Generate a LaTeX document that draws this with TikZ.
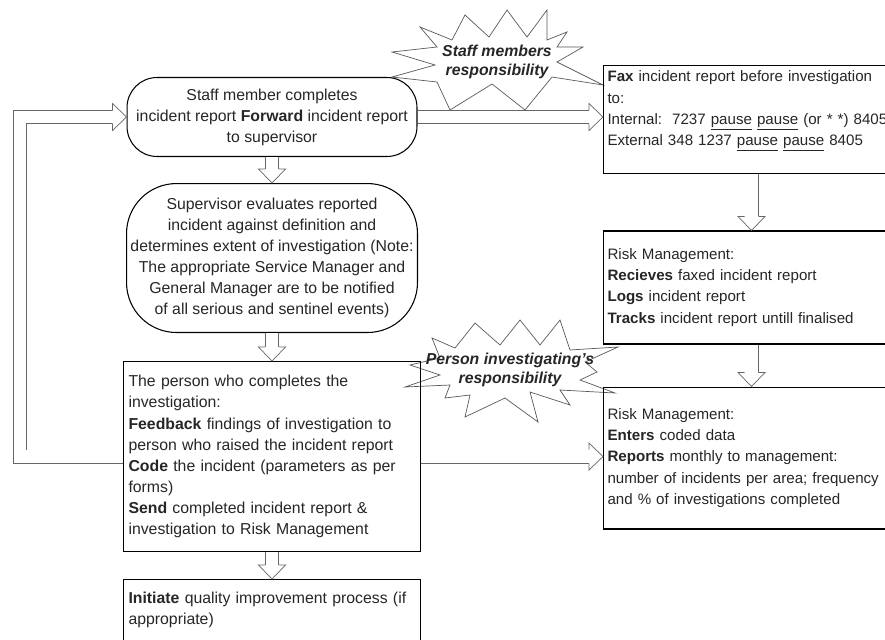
\documentclass[tikz,border=0pt]{standalone}
\usepackage{fontspec}
\setmainfont{Liberation Sans}
\usepackage{tikz}
\usetikzlibrary{positioning}
\usetikzlibrary{calc}
\usetikzlibrary{decorations.markings}
\tikzset{oval node/.style={draw,rounded corners=0.6cm,minimum width=5.8cm,minimum height=1.58cm,align=center,inner sep=0pt,line width=0.6pt},
	box node/.style={draw,rectangle,align=left,inner xsep=0.1cm,inner ysep=0.11cm,line width=0.6pt},
	risk node/.style={box node,text width=6cm,inner xsep=0.08cm,font=\fontsize{8.6}{12}\selectfont},
	resp node/.style={font=\fontsize{9}{11}\selectfont\bfseries\itshape,align=center,inner sep=0pt},
	burst line/.style={draw=black!65,line width=0.4pt,line join=miter},
	fat arrow/.style={draw=white,line width=0.252cm,shorten >=0.27cm,
		preaction={draw=black!60,line width=0.28cm,shorten >=0.27cm},
		postaction={decorate,decoration={markings,mark=at position 1 with {
			\fill[white,shorten >=0pt] (-0.28cm,-0.27cm) -- (0,0) -- (-0.28cm,0.27cm) -- cycle;
			\draw[black!60,line width=0.4pt,shorten >=0pt] (-0.28cm,-0.14cm) -- (-0.28cm,-0.27cm) -- (0,0) -- (-0.28cm,0.27cm) -- (-0.28cm,0.14cm);}}}},}

\begin{document}
\begin{tikzpicture}[x=0.02cm, y=-0.02cm, every node/.style={font=\fontsize{9}{12}\selectfont,text=black!85}]
	\useasboundingbox (0,0) rectangle (885,639);
	\clip (0,0) rectangle (885,639);

	% responsibility bursts
	\coordinate (staffburst) at (497,62);
	\coordinate (investburst) at (510,370);
	\draw[burst line, shift={(staffburst)}] (-32,-47) -- (-8,-25) -- (10,-52) -- (30,-25) -- (50,-52) -- (50,-22) -- (70,-30) -- (60,-15) -- (86,-15) -- (60,0) -- (106,23) -- (55,15) -- (28,48) -- (-5,22) -- (-47,48) -- (-60,20) -- (-105,15) -- (-62,3) -- (-105,-10) -- (-60,-15) -- (-77,-35) -- (-45,-22) -- cycle;
	\draw[burst line, shift={(investburst)}] (-35,-47) -- (-10,-25) -- (10,-50) -- (30,-25) -- (50,-50) -- (60,-20) -- (108,-23) -- (75,-8) -- (87,2) -- (70,10) -- (105,23) -- (50,20) -- (60,35) -- (20,22) -- (28,52) -- (-5,28) -- (-45,47) -- (-40,25) -- (-65,28) -- (-60,15) -- (-105,17) -- (-70,5) -- (-100,-5) -- (-70,-12) -- (-78,-32) -- (-55,-22) -- cycle;
	\node[resp node] (staffresp) at (staffburst) {Staff members\\responsibility};
	\node[resp node] (investresp) at (investburst) {Person investigating's\\responsibility};

	% left column
	\node[oval node] (staff) at (272,117) {Staff member completes\\incident report \textbf{Forward} incident report\\to supervisor};
	\node[oval node, rounded corners=1cm, minimum width=5.82cm, minimum height=2.98cm] (super) [below=0.52cm of staff] {Supervisor evaluates reported\\incident against definition and\\determines extent of investigation (Note:\\The appropriate Service Manager and\\General Manager are to be notified\\of all serious and sentinel events)};
	\node[box node, text width=5.74cm, minimum height=3.8cm] (invest) [below=0.56cm of super] {The person who completes the\\investigation:\\\textbf{Feedback} findings of investigation to\\person who raised the incident report\\\textbf{Code} the incident (parameters as per\\forms)\\\textbf{Send} completed incident report \&\\investigation to Risk Management};
	\node[box node, text width=5.74cm, inner ysep=0.25cm, text depth=2cm] (init) [below=0.54cm of invest] {\textbf{Initiate} quality improvement process (if\\appropriate)};

	% right column
	\node[risk node, text depth=1.73cm, anchor=north west] (fax) at (603,65) {\textbf{Fax} incident report before investigation\\to:\\Internal:\ \ 7237 \underline{pause} \underline{pause} (or * *) 8405\\External 348 1237 \underline{pause} \underline{pause} 8405};
	\node[risk node, minimum height=2.26cm] (rmlog) [below=1.12cm of fax] {Risk Management:\\\textbf{Recieves} faxed incident report\\\textbf{Logs} incident report\\\textbf{Tracks} incident report untill finalised};
	\node[risk node, minimum height=2.84cm] (rmreport) [below=0.84cm of rmlog] {Risk Management:\\\textbf{Enters} coded data\\\textbf{Reports} monthly to management:\\number of incidents per area; frequency\\and \% of investigations completed};

	\path[fat arrow] (staff) -- (super);
	\path[fat arrow] (super) -- (invest);
	\path[fat arrow] (invest) -- (init);
	\path[fat arrow] (staff.east) -- (staff.east -| fax.west);
	\path[fat arrow] (invest.east) -- (invest.east -| rmreport.west);
	\path[fat arrow] (invest.west) -- ++(-103,0) |- (staff.west);
	\path[fat arrow] ([xshift=-0.12cm]fax.south) -- ([xshift=-0.12cm]rmlog.north);
	\path[fat arrow] ([xshift=-0.12cm]rmlog.south) -- ([xshift=-0.12cm]rmreport.north);
\end{tikzpicture}
\end{document}
